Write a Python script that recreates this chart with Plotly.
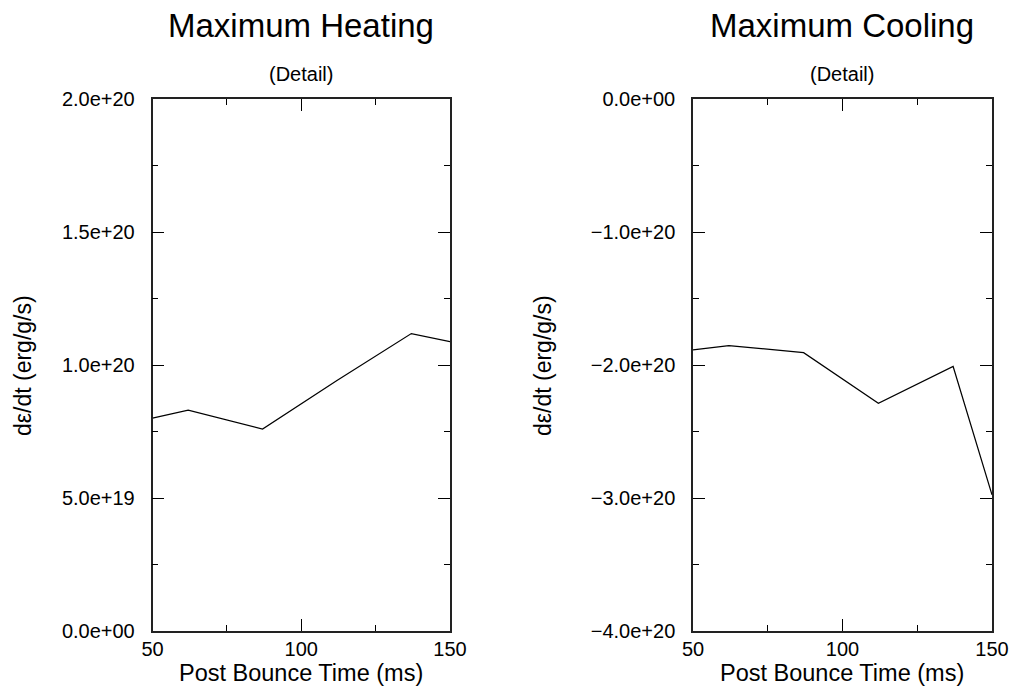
import plotly.graph_objects as go

# ---- data ----
time_heat = [50, 62, 87, 112, 137, 150]
heat_vals = [0.800e20, 0.830e20, 0.759e20, 0.942e20, 1.118e20, 1.088e20]

time_cool = [50, 62, 87, 112, 137, 150]
cool_vals = [-1.886e20, -1.854e20, -1.907e20, -2.288e20, -2.011e20, -2.976e20]

x_ticks = [50, 100, 150]
x_minor = [75, 125]
heat_yticks = [0, 0.5e20, 1.0e20, 1.5e20, 2.0e20]
heat_ylabels = ["0.0e+00", "5.0e+19", "1.0e+20", "1.5e+20", "2.0e+20"]
heat_yminor = [0.25e20, 0.75e20, 1.25e20, 1.75e20]
cool_yticks = [-4e20, -3e20, -2e20, -1e20, 0]
cool_ylabels = ["\u22124.0e+20", "\u22123.0e+20", "\u22122.0e+20", "\u22121.0e+20", "0.0e+00"]
cool_yminor = [-3.5e20, -2.5e20, -1.5e20, -0.5e20]

FONT = "Liberation Sans, Arial, Helvetica, sans-serif"
W, H = 1012, 690

fig = go.Figure()
fig.add_trace(go.Scatter(x=time_heat, y=heat_vals, mode="lines",
                         line=dict(color="black", width=1.2), xaxis="x", yaxis="y",
                         showlegend=False))
fig.add_trace(go.Scatter(x=time_cool, y=cool_vals, mode="lines",
                         line=dict(color="black", width=1.2), xaxis="x2", yaxis="y2",
                         showlegend=False))

def xaxis(domain, anchor):
    return dict(domain=domain, anchor=anchor, range=[50, 150], automargin=False,
                tickvals=x_ticks, ticktext=[str(v) for v in x_ticks],
                ticks="inside", ticklen=12, tickwidth=1, tickcolor="black",
                minor=dict(tickvals=x_minor, ticks="inside", ticklen=6, tickwidth=1, tickcolor="black"),
                showline=True, linecolor="#222", linewidth=1.5, mirror="allticks",
                showgrid=False, zeroline=False,
                tickfont=dict(family=FONT, size=20, color="black"),
                ticklabelstandoff=-1)

def yaxis(domain, anchor, rng, vals, labels, minor):
    return dict(domain=domain, anchor=anchor, range=rng, automargin=False,
                tickvals=vals, ticktext=labels,
                ticks="inside", ticklen=12, tickwidth=1, tickcolor="black",
                minor=dict(tickvals=minor, ticks="inside", ticklen=6, tickwidth=1, tickcolor="black"),
                showline=True, linecolor="#222", linewidth=1.5, mirror="allticks",
                showgrid=False, zeroline=False,
                tickfont=dict(family=FONT, size=20, color="black"),
                ticklabelstandoff=12)

ydom = [1 - 631 / H, 1 - 99 / H]
fig.update_layout(
    width=W, height=H,
    margin=dict(l=0, r=0, t=0, b=0, autoexpand=False),
    paper_bgcolor="white", plot_bgcolor="white",
    xaxis=xaxis([152.5 / W, 450 / W], "y"),
    yaxis=yaxis(ydom, "x", [0, 2e20], heat_yticks, heat_ylabels, heat_yminor),
    xaxis2=xaxis([693 / W, 992 / W], "y2"),
    yaxis2=yaxis(ydom, "x2", [-4e20, 0], cool_yticks, cool_ylabels, cool_yminor),
)

def ann(text, xpx, ypx, size, angle=0):
    fig.add_annotation(text=text, x=xpx / W, y=1 - ypx / H, xref="paper", yref="paper",
                       xanchor="center", yanchor="middle", showarrow=False, textangle=angle,
                       font=dict(family=FONT, size=size, color="black"))

ann("Maximum Heating", 301, 25, 33)
ann("Maximum Cooling", 842, 25, 33)
ann("(Detail)", 301, 74, 20)
ann("(Detail)", 842, 74, 20)
ann("Post Bounce Time (ms)", 301, 673, 23.5)
ann("Post Bounce Time (ms)", 842, 673, 23.5)
ann("d\u03b5/dt (erg/g/s)", 23, 366, 23, -90)
ann("d\u03b5/dt (erg/g/s)", 543, 366, 23, -90)

fig.write_html("out.html")
